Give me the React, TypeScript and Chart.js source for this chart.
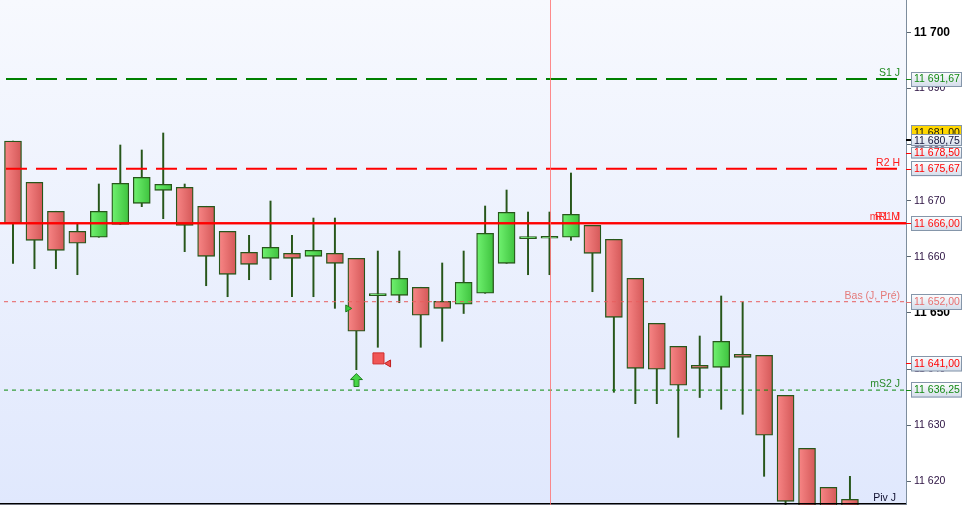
import React, { useEffect, useRef } from 'react';
import { Chart, registerables } from 'chart.js';

Chart.register(...registerables);

// ---- candle data (one entry per bar, oldest first) ----
const opens = [
  11680.63, 11673.27, 11668.11, 11664.54, 11663.48, 11665.79, 11669.53, 11671.85, 11672.38, 11669.0,
  11664.54, 11660.8, 11659.73, 11660.62, 11660.09, 11660.62, 11659.73, 11653.07, 11653.14, 11654.57,
  11652.07, 11651.54, 11653.5, 11658.84, 11663.23, 11663.3, 11663.48, 11665.61, 11663.12, 11656.17,
  11648.15, 11644.05, 11640.67, 11640.31, 11642.63, 11642.45, 11635.32, 11625.88, 11618.93, 11616.79,
];
const highs = [
  11680.63, 11673.27, 11668.11, 11666.02, 11672.97, 11679.92, 11679.03, 11682.06, 11672.97, 11669.0,
  11664.54, 11663.83, 11669.94, 11663.83, 11666.91, 11666.91, 11659.73, 11661.03, 11661.03, 11654.57,
  11658.9, 11661.03, 11669.05, 11671.9, 11667.98, 11667.98, 11674.93, 11665.61, 11663.12, 11656.17,
  11648.15, 11644.05, 11645.89, 11653.02, 11651.95, 11642.45, 11635.32, 11625.88, 11618.93, 11620.89,
];
const lows = [
  11658.84, 11657.88, 11657.88, 11656.81, 11663.48, 11665.79, 11668.93, 11666.79, 11660.91, 11654.85,
  11652.89, 11655.92, 11655.92, 11652.89, 11652.89, 11650.82, 11639.89, 11643.88, 11651.82, 11643.88,
  11644.95, 11649.9, 11653.5, 11658.84, 11656.81, 11656.81, 11662.94, 11653.78, 11635.86, 11633.83,
  11633.83, 11627.84, 11634.93, 11632.83, 11631.94, 11620.89, 11614.0, 11610.0, 11610.0, 11611.0,
];
const closes = [
  11666.0, 11662.94, 11661.16, 11662.41, 11668.11, 11673.1, 11674.17, 11672.92, 11665.61, 11660.09,
  11656.88, 11658.66, 11661.69, 11659.73, 11661.16, 11658.84, 11646.73, 11653.07, 11656.17, 11649.58,
  11650.82, 11655.46, 11664.19, 11667.93, 11663.23, 11663.65, 11667.57, 11660.62, 11649.22, 11640.13,
  11639.96, 11637.11, 11640.13, 11644.95, 11642.09, 11628.2, 11616.44, 11612.0, 11613.0, 11614.0,
];

// ---- horizontal levels ----
const levelNames = ['S1 J', 'R2 H', 'mR1 J', 'R1 M', 'Bas (J, Pré)', 'mS2 J', 'Piv J'];
const levelValues = [11691.67, 11675.67, 11666.0, 11666.0, 11652.0, 11636.25, 11616.0];

// ---- price tags on the right axis ----
const tagValues = [11691.67, 11681.0, 11680.75, 11678.5, 11675.67, 11666.0, 11652.0, 11641.0, 11636.25];

// ---- axis ranges / ticks ----
const yTicks = [11620, 11630, 11640, 11650, 11660, 11670, 11680, 11690, 11700];
const yBoldEvery = 50;
const Y_MIN = 11615.78;
const Y_MAX = 11705.755;
const X_MIN = -0.6058;
const X_MAX = 41.612;

// ---- crosshair & signals ----
const cursorIndex = [25];
const buyArrowX = [16];
const buyArrowY = [11638.05];
const entryMarkX = [15.6];
const entryMarkY = [11650.8];
const stopSquareX = [17.03];
const stopSquareY = [11641.9];
const exitMarkX = [17.5];
const exitMarkY = [11641.0];

// ---- styles (kept apart from data) ----
const levelStyles = [
  { color: '#008000', width: 2, dash: [21, 9], off: 24, text: '#1f8a1f', dx: 0 },
  { color: '#ff0000', width: 2, dash: [21, 9], off: 24, text: '#ff1a1a', dx: 0 },
  { color: '#ff0000', width: 2, dash: [], off: 0, text: '#ff3030', dx: 0 },
  { color: '#ff0000', width: 2, dash: [], off: 0, text: '#ff2020', dx: 0 },
  { color: '#e85f5f', width: 1, dash: [4, 4], off: 4, text: '#e47a7a', dx: 0 },
  { color: '#0a8a0a', width: 1, dash: [4, 4], off: 4, text: '#2a8a2a', dx: 0 },
  { color: '#000000', width: 1.5, dash: [], off: 0, text: '#101030', dx: -4 },
];
const tagStyles = [
  { text: '#138a13', fill: null, dy: 0, h: 15, tick: '#138a13' },
  { text: '#101010', fill: '#ffd700', dy: -6, h: 15, tick: '#000000' },
  { text: '#14143a', fill: null, dy: 0, h: 12, tick: '#000000' },
  { text: '#ff0000', fill: null, dy: 0, h: 11.5, tick: '#ff0000' },
  { text: '#ff0000', fill: null, dy: 0, h: 15, tick: '#ff0000' },
  { text: '#ff1010', fill: null, dy: 0, h: 15, tick: '#ff0000' },
  { text: '#e87070', fill: null, dy: 0, h: 16, tick: '#e87070' },
  { text: '#ff0000', fill: null, dy: 0, h: 15.5, tick: '#ff0000' },
  { text: '#138a13', fill: null, dy: 0, h: 15.5, tick: '#138a13' },
];

const FONT = '"Liberation Sans", Arial, sans-serif';
const EDGE = '#27561a';

function groupThousands(s: string) {
  return s.replace(/\B(?=(\d{3})+(?!\d))/g, ' ');
}
function fmtTag(v: number) {
  const [i, d] = v.toFixed(2).split('.');
  return groupThousands(i) + ',' + d;
}

function makeArrow() {
  const c = document.createElement('canvas');
  c.width = 13;
  c.height = 14;
  const x = c.getContext('2d')!;
  x.beginPath();
  x.moveTo(6.5, 0.5);
  x.lineTo(12.5, 6.5);
  x.lineTo(9, 6.5);
  x.lineTo(9, 13.5);
  x.lineTo(4, 13.5);
  x.lineTo(4, 6.5);
  x.lineTo(0.5, 6.5);
  x.closePath();
  x.fillStyle = '#46d646';
  x.fill();
  x.strokeStyle = '#1c7e1c';
  x.lineWidth = 1;
  x.stroke();
  return c;
}

const bgPlugin = {
  id: 'bgPlugin',
  beforeDraw(chart: any) {
    const { ctx, chartArea: a, width, height } = chart;
    ctx.save();
    ctx.fillStyle = '#ffffff';
    ctx.fillRect(0, 0, width, height);
    const g = ctx.createLinearGradient(0, a.top, 0, a.bottom);
    g.addColorStop(0, '#f7f9fe');
    g.addColorStop(1, '#e0e8fd');
    ctx.fillStyle = g;
    ctx.fillRect(a.left, a.top, a.right - a.left, a.bottom - a.top);
    ctx.restore();
  },
};

const labelPlugin = {
  id: 'labelPlugin',
  afterDatasetsDraw(chart: any) {
    const { ctx, chartArea: a } = chart;
    const ys = chart.scales.y;
    const xs = chart.scales.x;
    ctx.save();
    // crosshair cursor
    const cx = Math.round(xs.getPixelForValue(cursorIndex[0])) + 0.5;
    ctx.strokeStyle = 'rgba(255,110,110,0.8)';
    ctx.lineWidth = 1;
    ctx.beginPath();
    ctx.moveTo(cx, a.top);
    ctx.lineTo(cx, a.bottom);
    ctx.stroke();
    // level labels
    ctx.font = `10.5px ${FONT}`;
    ctx.textAlign = 'right';
    ctx.textBaseline = 'alphabetic';
    levelNames.forEach((name, i) => {
      const y = ys.getPixelForValue(levelValues[i]);
      ctx.fillStyle = levelStyles[i].text;
      ctx.fillText(name, a.right - 6 + levelStyles[i].dx, y - 3);
    });
    ctx.restore();
  },
};

const tagPlugin = {
  id: 'tagPlugin',
  afterDraw(chart: any) {
    const { ctx, chartArea: a } = chart;
    const ys = chart.scales.y;
    const left = a.right + 5;
    const w = 51;
    ctx.save();
    tagValues.forEach((v, i) => {
      const st = tagStyles[i];
      const yTrue = ys.getPixelForValue(v);
      const cy = yTrue + st.dy;
      const top = cy - st.h / 2;
      ctx.strokeStyle = st.tick;
      ctx.lineWidth = 1;
      ctx.beginPath();
      ctx.moveTo(a.right, Math.round(yTrue) + 0.5);
      ctx.lineTo(left, Math.round(yTrue) + 0.5);
      ctx.stroke();
      if (st.fill) {
        ctx.fillStyle = st.fill;
      } else {
        const g = ctx.createLinearGradient(0, top, 0, top + st.h);
        g.addColorStop(0, '#ffffff');
        g.addColorStop(1, '#d3dcea');
        ctx.fillStyle = g;
      }
      ctx.fillRect(left, top, w, st.h);
      ctx.strokeStyle = '#8596aa';
      ctx.strokeRect(left + 0.5, Math.round(top) + 0.5, w - 1, st.h - 1);
      ctx.fillStyle = st.text;
      ctx.font = `10.5px ${FONT}`;
      ctx.textAlign = 'left';
      ctx.textBaseline = 'middle';
      ctx.fillText(fmtTag(v), left + 3, cy + 0.5);
    });
    ctx.restore();
  },
};

function bodyColor(c: any) {
  const i = c.dataIndex;
  const up = closes[i] >= opens[i];
  const chart = c.chart;
  const xs = chart.scales && chart.scales.x;
  if (!xs || !chart.chartArea || !c.raw) return up ? '#55dd55' : '#ea7070';
  const px = xs.getPixelForValue(c.raw.x);
  const g = chart.ctx.createLinearGradient(px - 8.5, 0, px + 8.5, 0);
  if (up) {
    g.addColorStop(0, '#70f270');
    g.addColorStop(1, '#3ec23e');
  } else {
    g.addColorStop(0, '#f88686');
    g.addColorStop(1, '#d45858');
  }
  return g;
}

export default function App() {
  const ref = useRef<HTMLCanvasElement | null>(null);

  useEffect(() => {
    if (!ref.current) return;
    const arrow = makeArrow();

    const bodies = opens.map((o, i) => ({ x: i, y: [o, closes[i]] }));
    const wicks = opens.map((_, i) => ({ x: i, y: [lows[i], highs[i]] }));

    const levelSets = levelValues.map((v, i) => ({
      type: 'line',
      label: levelNames[i],
      data: [
        { x: X_MIN, y: v },
        { x: X_MAX, y: v },
      ],
      borderColor: levelStyles[i].color,
      borderWidth: levelStyles[i].width,
      borderDash: levelStyles[i].dash,
      borderDashOffset: levelStyles[i].off,
      pointRadius: 0,
      fill: false,
      tension: 0,
      order: 0,
    }));

    const chart = new Chart(ref.current, {
      type: 'bar',
      data: {
        datasets: [
          ...levelSets,
          {
            type: 'scatter',
            label: 'buy',
            data: buyArrowX.map((x, i) => ({ x, y: buyArrowY[i] })),
            pointStyle: arrow,
            order: 0,
          },
          {
            type: 'scatter',
            label: 'entry',
            data: entryMarkX.map((x, i) => ({ x, y: entryMarkY[i] })),
            pointStyle: 'triangle',
            rotation: 90,
            radius: 4,
            backgroundColor: '#3cc83c',
            borderColor: '#1c7e1c',
            borderWidth: 1,
            order: 0,
          },
          {
            type: 'scatter',
            label: 'stop',
            data: stopSquareX.map((x, i) => ({ x, y: stopSquareY[i] })),
            pointStyle: 'rect',
            radius: 7.8,
            backgroundColor: '#f05656',
            borderColor: '#cf2e2e',
            borderWidth: 1,
            order: 0,
          },
          {
            type: 'scatter',
            label: 'exit',
            data: exitMarkX.map((x, i) => ({ x, y: exitMarkY[i] })),
            pointStyle: 'triangle',
            rotation: 270,
            radius: 4,
            backgroundColor: '#f05050',
            borderColor: '#c01e1e',
            borderWidth: 1,
            order: 0,
          },
          {
            type: 'bar',
            label: 'body',
            data: bodies as any,
            backgroundColor: bodyColor as any,
            borderColor: EDGE,
            borderWidth: 1.3,
            borderSkipped: false,
            barThickness: 17,
            minBarLength: 2,
            grouped: false,
            order: 1,
          },
          {
            type: 'bar',
            label: 'wick',
            data: wicks as any,
            backgroundColor: EDGE,
            borderWidth: 0,
            barThickness: 1.3,
            grouped: false,
            order: 2,
          },
        ] as any,
      },
      plugins: [bgPlugin, labelPlugin, tagPlugin],
      options: {
        animation: false,
        responsive: false,
        events: [],
        layout: { padding: 0, autoPadding: false },
        plugins: {
          legend: { display: false },
          tooltip: { enabled: false },
        },
        scales: {
          x: {
            type: 'linear',
            min: X_MIN,
            max: X_MAX,
            offset: false,
            display: false,
          },
          y: {
            type: 'linear',
            position: 'right',
            min: Y_MIN,
            max: Y_MAX,
            afterBuildTicks: (s: any) => {
              s.ticks = yTicks.map((value) => ({ value }));
            },
            afterFit: (s: any) => {
              s.width = 58;
              s.paddingTop = 0;
              s.paddingBottom = 0;
            },
            border: { display: true, color: '#7d8d9d', width: 1 },
            grid: {
              display: true,
              drawOnChartArea: false,
              drawTicks: true,
              tickLength: 5,
              color: '#5a6570',
            },
            ticks: {
              padding: 3,
              callback: (v: any) => groupThousands(String(Math.round(Number(v)))),
              font: (c: any) => {
                const bold = c.tick && Math.round(c.tick.value) % yBoldEvery === 0;
                return { family: FONT, size: bold ? 12 : 10.5, weight: bold ? 'bold' : 'normal' };
              },
              color: (c: any) => {
                const bold = c.tick && Math.round(c.tick.value) % yBoldEvery === 0;
                return bold ? '#000000' : '#2a1040';
              },
            },
          },
        },
      } as any,
    });

    return () => chart.destroy();
  }, []);

  return (
    <div style={{ position: 'fixed', left: 0, top: 0, width: 964, height: 505, background: '#fff' }}>
      <canvas ref={ref} width={964} height={505} style={{ display: 'block', width: 964, height: 505 }} />
    </div>
  );
}
